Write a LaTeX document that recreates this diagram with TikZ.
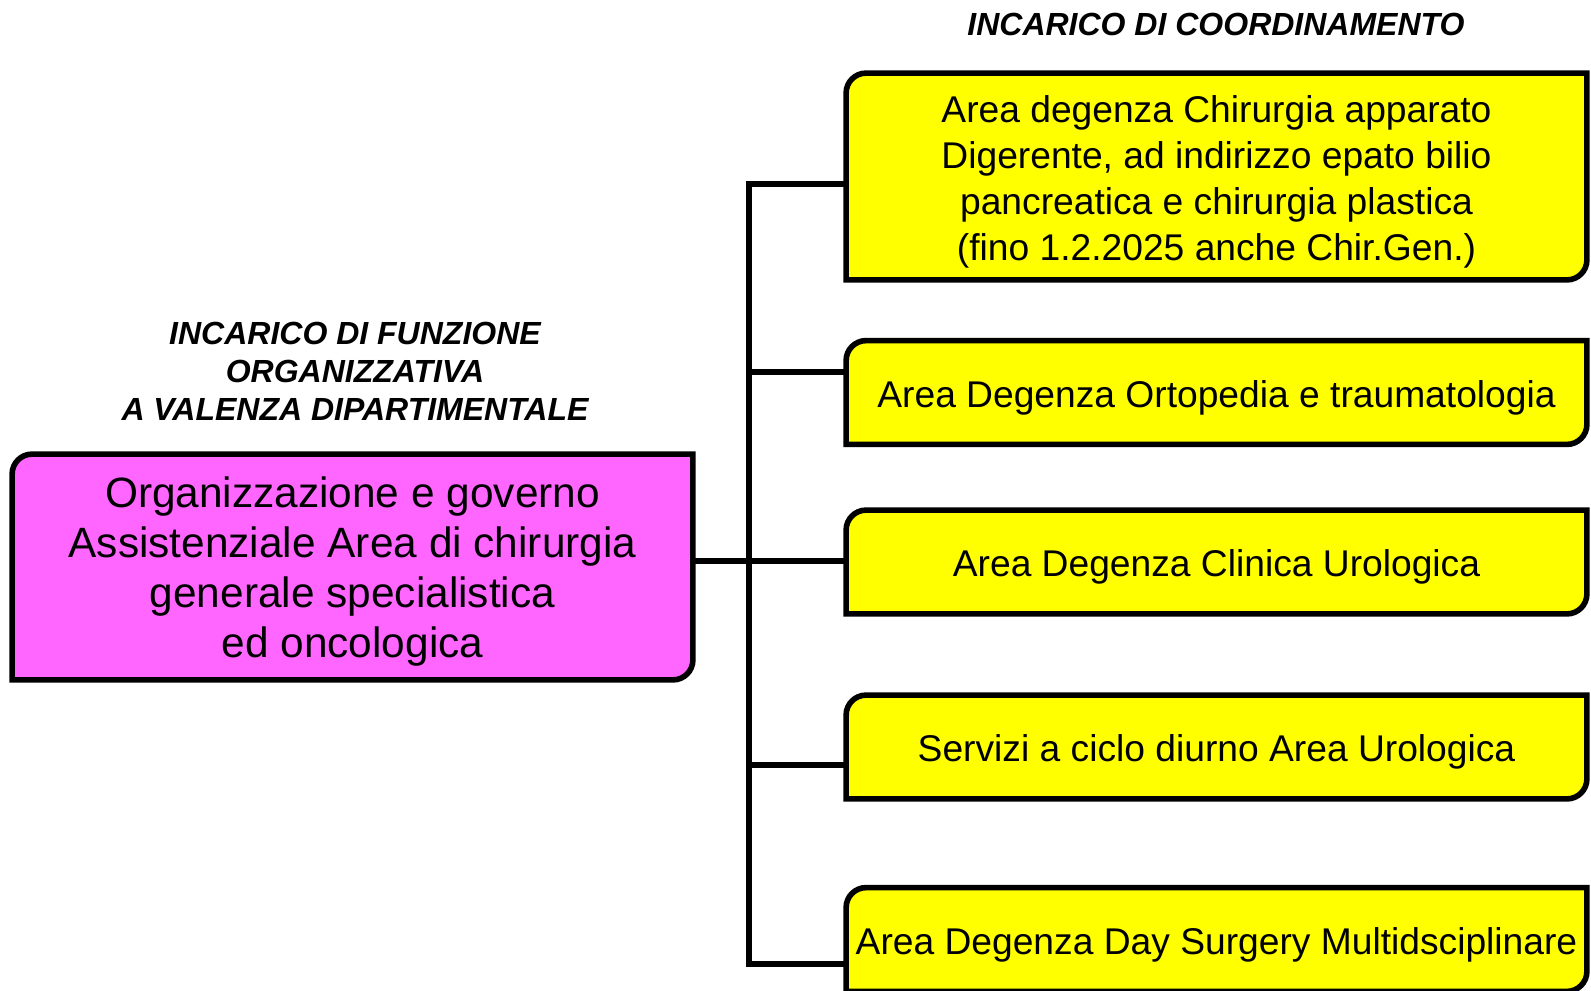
\documentclass[tikz,border=0pt]{standalone}
\usepackage{fontspec}
\setmainfont{Liberation Sans}
\usetikzlibrary{positioning,backgrounds}

\definecolor{funzpink}{HTML}{FF66FF}
\definecolor{coordyellow}{HTML}{FFFF00}

\begin{document}
\begin{tikzpicture}[x=0.5pt, y=-0.5pt,
    boxtext/.style={inner sep=0pt, align=center, minimum width=370pt},
    funz/.style={inner sep=0pt, align=center, minimum width=340pt, minimum height=112.5pt,
      font=\fontsize{21.2pt}{25pt}\selectfont},
    coord/.style={boxtext, minimum height=51.5pt, font=\fontsize{18.6pt}{23pt}\selectfont},
    tall/.style={coord, minimum height=103pt},
    title/.style={align=center, inner sep=0pt,
      font=\fontsize{16pt}{19pt}\selectfont\bfseries\itshape},
    outline/.style={draw=black, line width=2.8pt, line join=miter},
    link/.style={draw=black, line width=2.6pt, line join=miter}]
  \useasboundingbox (0,0) rectangle (1591,991);

  % Titles
  \node[title] (coordtitle) at (1216,24) {INCARICO DI COORDINAMENTO};
  \node[title] (funztitle)  at (355,371) {INCARICO DI FUNZIONE\\ORGANIZZATIVA\\A VALENZA DIPARTIMENTALE};

  % Nodes (text sits a little below the middle of each box)
  \node[funz]  (org) at (352.5,572) {Organizzazione e governo\\Assistenziale Area di chirurgia\\generale specialistica\\ed oncologica};
  \node[tall]  (b1)  at (1216.5,181.5) {Area degenza Chirurgia apparato\\Digerente, ad indirizzo epato bilio\\pancreatica e chirurgia plastica\\(fino 1.2.2025 anche Chir.Gen.)};
  \node[coord] (b2)  at (1216.5,397.5) {Area Degenza Ortopedia e traumatologia};
  \node[coord] (b3)  at (1216.5,567) {Area Degenza Clinica Urologica};
  \node[coord] (b4)  at (1216.5,752) {Servizi a ciclo diurno Area Urologica};
  \node[coord] (b5)  at (1216.5,944.5) {Area Degenza Day Surgery Multidsciplinare};

  % Box outlines (rounded top left and bottom right)
  \begin{pgfonlayer}{background}
    \foreach \n/\c in {org/funzpink, b1/coordyellow, b2/coordyellow, b3/coordyellow, b4/coordyellow, b5/coordyellow}
      \filldraw[outline, fill=\c] ([yshift=2.5pt]\n.south west) -- ([yshift=-7.5pt]\n.north west)
        arc[start angle=180, end angle=90, radius=10pt] -- ([yshift=2.5pt]\n.north east)
        -- ([yshift=12.5pt]\n.south east) arc[start angle=0, end angle=-90, radius=10pt] -- cycle;
  \end{pgfonlayer}

  % Edges
  \coordinate (t1) at (749,184);
  \coordinate (t2) at (749,372);
  \coordinate (t3) at (749,561);
  \coordinate (t4) at (749,765);
  \coordinate (t5) at (749,964);
  \draw[link] (t1 -| b1.west) -- (t1) -- (t5) -- (t5 -| b5.west);
  \foreach \i in {2,3,4}
    \draw[link] (t\i) -- (t\i -| b\i.west);
  \draw[link] (org.east |- t3) -- (t3);
\end{tikzpicture}
\end{document}
